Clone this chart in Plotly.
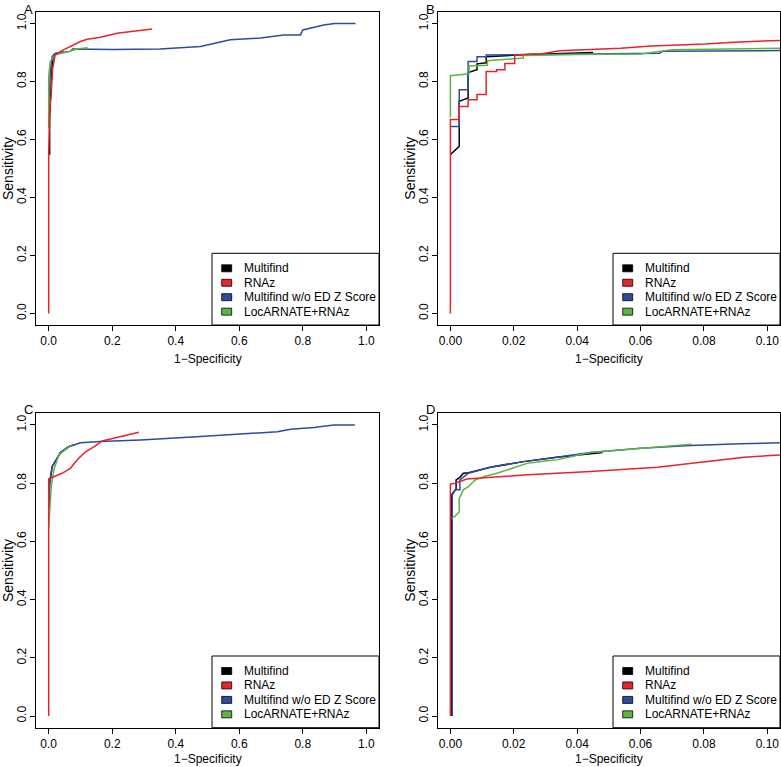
import plotly.graph_objects as go

W, H = 781, 767

series_names = ["Multifind", "RNAz", "Multifind w/o ED Z Score", "LocARNATE+RNAz"]
series_colors = ["#000000", "#e8232a", "#2d4b9f", "#5db445"]
panel_labels = ["A", "B", "C", "D"]
y_ticks = [0.0, 0.2, 0.4, 0.6, 0.8, 1.0]
x_ticks_full = [0.0, 0.2, 0.4, 0.6, 0.8, 1.0]
x_ticks_zoom = [0.00, 0.02, 0.04, 0.06, 0.08, 0.10]

# ---- Panel A ----
A_mf_x = [0.0, 0.003, 0.003, 0.005, 0.011, 0.016, 0.030, 0.047]
A_mf_y = [0.55, 0.55, 0.68, 0.74, 0.86, 0.893, 0.898, 0.902]
A_rnaz_x = [0.0, 0.0, 0.003, 0.008, 0.012, 0.016, 0.020, 0.037, 0.068, 0.100, 0.121, 0.163, 0.215, 0.236, 0.279, 0.326]
A_rnaz_y = [0.0, 0.55, 0.70, 0.76, 0.84, 0.86, 0.89, 0.904, 0.921, 0.938, 0.946, 0.953, 0.967, 0.970, 0.975, 0.981]
A_noz_x = [0.0, 0.003, 0.005, 0.011, 0.021, 0.068, 0.075, 0.200, 0.350, 0.478, 0.572, 0.667, 0.740, 0.793, 0.800, 0.866, 0.900, 0.966]
A_noz_y = [0.70, 0.78, 0.835, 0.886, 0.898, 0.904, 0.912, 0.911, 0.912, 0.921, 0.944, 0.950, 0.961, 0.961, 0.978, 0.995, 1.0, 1.0]
A_loc_x = [0.0, 0.0, 0.005, 0.021, 0.058, 0.089, 0.123]
A_loc_y = [0.64, 0.82, 0.869, 0.893, 0.902, 0.912, 0.917]

# ---- Panel B ----
B_mf_x = [0.0, 0.0028, 0.0028, 0.0056, 0.0056, 0.0084, 0.0084, 0.0113, 0.0113, 0.0146, 0.025, 0.045]
B_mf_y = [0.548, 0.577, 0.732, 0.743, 0.831, 0.841, 0.861, 0.865, 0.886, 0.888, 0.893, 0.900]
B_rnaz_x = [0.0, 0.0, 0.0028, 0.0028, 0.0056, 0.0056, 0.0084, 0.0084, 0.0113, 0.0113, 0.0146, 0.0146, 0.0172, 0.0172, 0.0203, 0.0203, 0.0288, 0.0345, 0.0537, 0.0634, 0.0804, 0.0893, 0.104]
B_rnaz_y = [0.0, 0.669, 0.669, 0.714, 0.714, 0.737, 0.737, 0.755, 0.755, 0.835, 0.835, 0.841, 0.841, 0.862, 0.862, 0.892, 0.896, 0.906, 0.915, 0.923, 0.930, 0.936, 0.942]
B_noz_x = [0.0, 0.0028, 0.0028, 0.0056, 0.0056, 0.0084, 0.0084, 0.0113, 0.0113, 0.030, 0.066, 0.067, 0.104]
B_noz_y = [0.645, 0.645, 0.772, 0.772, 0.869, 0.869, 0.886, 0.886, 0.892, 0.894, 0.898, 0.905, 0.907]
B_loc_x = [0.0, 0.0, 0.0059, 0.0059, 0.0117, 0.0117, 0.023, 0.023, 0.040, 0.060, 0.070, 0.104]
B_loc_y = [0.676, 0.820, 0.827, 0.854, 0.856, 0.872, 0.881, 0.890, 0.893, 0.895, 0.910, 0.915]

# ---- Panel C ----
C_mf_x = [0.0, 0.003, 0.011, 0.037, 0.063, 0.080]
C_mf_y = [0.70, 0.80, 0.857, 0.905, 0.925, 0.932]
C_rnaz_x = [0.0, 0.0, 0.016, 0.042, 0.068, 0.095, 0.116, 0.147, 0.168, 0.205, 0.247, 0.284]
C_rnaz_y = [0.0, 0.815, 0.822, 0.834, 0.851, 0.886, 0.908, 0.928, 0.945, 0.954, 0.966, 0.975]
C_noz_x = [0.0, 0.003, 0.011, 0.037, 0.063, 0.100, 0.163, 0.289, 0.478, 0.604, 0.720, 0.762, 0.835, 0.898, 0.964]
C_noz_y = [0.70, 0.80, 0.857, 0.905, 0.925, 0.939, 0.943, 0.948, 0.960, 0.970, 0.977, 0.985, 0.991, 1.0, 1.0]
C_loc_x = [0.0, 0.008, 0.016, 0.032, 0.058, 0.077]
C_loc_y = [0.65, 0.788, 0.845, 0.897, 0.920, 0.934]

# ---- Panel D ----
D_mf_x = [0.0004, 0.0004, 0.0018, 0.0018, 0.0030, 0.0041, 0.0057, 0.0126, 0.0231, 0.0336, 0.048]
D_mf_y = [0.0, 0.76, 0.78, 0.811, 0.820, 0.834, 0.836, 0.855, 0.874, 0.889, 0.905]
D_rnaz_x = [0.0, 0.0, 0.0015, 0.0052, 0.0231, 0.0442, 0.0653, 0.0758, 0.0885, 0.0927, 0.104]
D_rnaz_y = [0.0, 0.797, 0.800, 0.814, 0.828, 0.840, 0.855, 0.868, 0.882, 0.889, 0.897]
D_noz_x = [0.0006, 0.0006, 0.0015, 0.0030, 0.0030, 0.0057, 0.0126, 0.0231, 0.0336, 0.0442, 0.060, 0.0758, 0.0916, 0.104]
D_noz_y = [0.0, 0.759, 0.777, 0.777, 0.811, 0.834, 0.855, 0.874, 0.889, 0.905, 0.920, 0.929, 0.935, 0.939]
D_loc_x = [0.0004, 0.0015, 0.0028, 0.0028, 0.0041, 0.0057, 0.0078, 0.0104, 0.0147, 0.0189, 0.0242, 0.0305, 0.0336, 0.044, 0.0547, 0.0653, 0.0761]
D_loc_y = [0.679, 0.687, 0.702, 0.748, 0.777, 0.788, 0.811, 0.822, 0.834, 0.848, 0.868, 0.877, 0.880, 0.905, 0.914, 0.923, 0.934]

panels = [
    [(A_mf_x, A_mf_y), (A_rnaz_x, A_rnaz_y), (A_noz_x, A_noz_y), (A_loc_x, A_loc_y)],
    [(B_mf_x, B_mf_y), (B_rnaz_x, B_rnaz_y), (B_noz_x, B_noz_y), (B_loc_x, B_loc_y)],
    [(C_mf_x, C_mf_y), (C_rnaz_x, C_rnaz_y), (C_noz_x, C_noz_y), (C_loc_x, C_loc_y)],
    [(D_mf_x, D_mf_y), (D_rnaz_x, D_rnaz_y), (D_noz_x, D_noz_y), (D_loc_x, D_loc_y)],
]

FONT = "Liberation Sans, Arial, Helvetica, sans-serif"

def px(x):
    return x / W

def py(y):
    return 1 - y / H

# panel boxes in pixels: (left, right, top, bottom)
boxes = [(36, 379, 12, 325), (437.7, 780, 12, 325), (36, 379, 413.3, 727.7), (437.7, 780, 413.3, 727.7)]
xranges = [[-0.04, 1.04], [-0.004, 0.104], [-0.04, 1.04], [-0.004, 0.104]]

fig = go.Figure()
draw_order = [0, 2, 3, 1]
for p, series in enumerate(panels):
    xa = "x" if p == 0 else f"x{p+1}"
    ya = "y" if p == 0 else f"y{p+1}"
    for s in draw_order:
        xs, ys = series[s]
        fig.add_trace(go.Scatter(x=xs, y=ys, mode="lines", name=series_names[s],
                                 line=dict(color=series_colors[s], width=1.5),
                                 xaxis=xa, yaxis=ya, showlegend=False, hoverinfo="skip"))

layout = dict(width=W, height=H, margin=dict(l=0, r=0, t=0, b=0),
              paper_bgcolor="white", plot_bgcolor="white", showlegend=False,
              font=dict(family=FONT, size=12, color="black"))
shapes = []
annotations = []
for p in range(4):
    l, r, t, b = boxes[p]
    xk = "xaxis" if p == 0 else f"xaxis{p+1}"
    yk = "yaxis" if p == 0 else f"yaxis{p+1}"
    zoomed = p in (1, 3)
    layout[xk] = dict(domain=[px(l), px(r)], range=xranges[p], anchor="y" if p == 0 else f"y{p+1}",
                      tickvals=x_ticks_zoom if zoomed else x_ticks_full,
                      ticktext=[f"{v:.2f}" for v in x_ticks_zoom] if zoomed else [f"{v:.1f}" for v in x_ticks_full],
                      ticks="outside", ticklen=5, tickwidth=1, tickcolor="black",
                      showline=True, linecolor="black", linewidth=1, mirror=True,
                      showgrid=False, zeroline=False, tickfont=dict(size=12, family=FONT))
    layout[yk] = dict(domain=[py(b), py(t)], range=[-0.04, 1.04], anchor="x" if p == 0 else f"x{p+1}",
                      tickvals=y_ticks, ticktext=[f"{v:.1f}" for v in y_ticks], tickangle=-90,
                      ticks="outside", ticklen=5, tickwidth=1, tickcolor="black", ticklabelstandoff=-1,
                      showline=True, linecolor="black", linewidth=1, mirror=True,
                      showgrid=False, zeroline=False, tickfont=dict(size=12, family=FONT))
    # axis titles
    annotations.append(dict(text="1\u2212Specificity", x=px((l + r) / 2), y=py(min(b + 34, 758.5)),
                            xref="paper", yref="paper",
                            xanchor="center", yanchor="middle", showarrow=False, font=dict(size=12, family=FONT)))
    annotations.append(dict(text="Sensitivity", x=px(l - 28.5), y=py((t + b) / 2), xref="paper", yref="paper",
                            xanchor="center", yanchor="middle", textangle=-90, showarrow=False,
                            font=dict(size=14, family=FONT)))
    # panel letter
    annotations.append(dict(text=panel_labels[p], x=px(l - 14), y=py(max(t - 13, 0)), xref="paper", yref="paper",
                            xanchor="left", yanchor="top", showarrow=False, font=dict(size=13, family=FONT)))
    # legend box
    lg_l, lg_t = r - 167, b - 71.7
    shapes.append(dict(type="rect", xref="paper", yref="paper", x0=px(lg_l), x1=px(r), y0=py(b), y1=py(lg_t),
                       line=dict(color="black", width=1), fillcolor="white", layer="above"))
    for i, name in enumerate(series_names):
        cy = lg_t + 15 + i * 14.45
        shapes.append(dict(type="rect", xref="paper", yref="paper", x0=px(lg_l + 9.7), x1=px(lg_l + 19.7),
                           y0=py(cy + 3.5), y1=py(cy - 3.5), line=dict(color="black", width=0.8),
                           fillcolor=series_colors[i], layer="above"))
        annotations.append(dict(text=name, x=px(lg_l + 29.5), y=py(cy), xref="paper", yref="paper",
                                xanchor="left", yanchor="middle", showarrow=False,
                                font=dict(size=12, family=FONT)))

layout["shapes"] = shapes
layout["annotations"] = annotations
fig.update_layout(**layout)
fig.write_html("out.html", config={"displayModeBar": False},
               post_script="document.body.style.margin='0';document.body.style.overflow='hidden';")
